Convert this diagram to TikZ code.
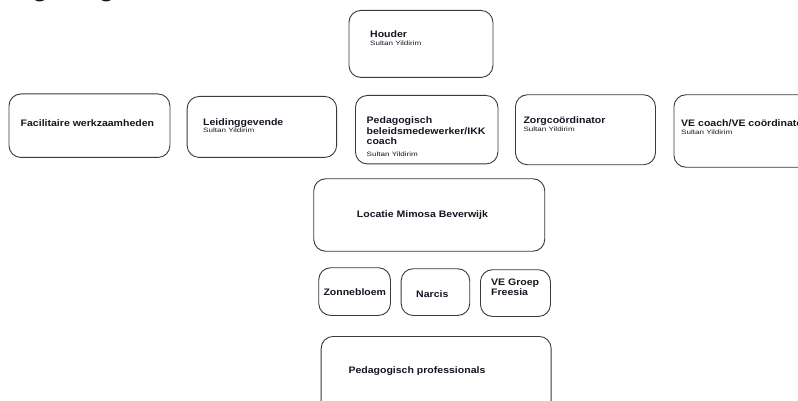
\documentclass[tikz,border=0pt]{standalone}
\usepackage{fontspec}
\setmainfont{Liberation Sans}
\newfontfamily\lblfont[FakeStretch=1.12]{Liberation Sans}
\newfontfamily\subfont[FakeStretch=1.28]{Liberation Sans}
\definecolor{linegray}{HTML}{3A3A3A}
\definecolor{txt}{HTML}{151520}
\tikzset{
  box/.style={draw=linegray, line width=0.9pt, rounded corners=12pt, inner sep=0pt, anchor=north west},
  ttl/.style={font=\lblfont\fontsize{9.4}{10}\selectfont\bfseries, text=txt, inner sep=0pt, anchor=base west},
  sub/.style={font=\subfont\fontsize{6.3}{7}\selectfont, text=txt, inner sep=0pt, anchor=base west},
}
\begin{document}
\begin{tikzpicture}[x=1pt, y=-1pt]
\useasboundingbox (0,0) rectangle (798,401);
\clip (0,0) rectangle (798,401);
\fill[white] (0,0) rectangle (798,401);
% cut-off heading
\node[font=\fontsize{30}{32}\selectfont\bfseries, text=txt, inner sep=0pt, outer sep=0pt, anchor=base west, xscale=0.93, transform shape] (heading) at (-1,-4.5) {Organogram};
% boxes
\node[box, minimum width=144pt, minimum height=67pt] (houder) at (348.5,10) {};
\node[box, minimum width=161pt, minimum height=63.5pt] (fac) at (8.5,93.5) {};
\node[box, minimum width=149.5pt, minimum height=61pt] (leid) at (186.7,96) {};
\node[box, minimum width=142.5pt, minimum height=68.5pt] (ped) at (355,95) {};
\node[box, minimum width=140pt, minimum height=70pt] (zorg) at (515,94.3) {};
\node[box, minimum width=150pt, minimum height=72.5pt] (vec) at (673.5,94.3) {};
\node[box, minimum width=231pt, minimum height=72.5pt] (loc) at (313.3,178.3) {};
\node[box, minimum width=71.7pt, minimum height=47.7pt] (zon) at (318.3,267.3) {};
\node[box, minimum width=68.6pt, minimum height=46.7pt] (nar) at (400.7,268.3) {};
\node[box, minimum width=70pt, minimum height=46.7pt] (veg) at (480,269.3) {};
\node[box, minimum width=230pt, minimum height=80pt] (pp) at (320.7,336) {};
% texts
\node[ttl] (houderT) at (370,38) {Houder};
\node[sub] (houderS) at (370,45.3) {Sultan Yildirim};
\node[ttl] (facT) at (20.5,126.5) {Facilitaire werkzaamheden};
\node[ttl] (leidT) at (203,126) {Leidinggevende};
\node[sub] (leidS) at (203,132.3) {Sultan Yildirim};
\node[ttl] (pedT1) at (366.5,123.4) {Pedagogisch};
\node[ttl] (pedT2) at (366.5,134.5) {beleidsmedewerker/IKK};
\node[ttl] (pedT3) at (366.5,145) {coach};
\node[sub] (pedS) at (366.5,156.2) {Sultan Yildirim};
\node[ttl] (zorgT) at (523.3,124) {Zorgcoördinator};
\node[sub] (zorgS) at (523.3,131.2) {Sultan Yildirim};
\node[ttl] (vecT) at (681,126.7) {VE coach/VE coördinator};
\node[sub] (vecS) at (681,134.5) {Sultan Yildirim};
\node[ttl] (locT) at (356.7,217.4) {Locatie Mimosa Beverwijk};
\node[ttl] (zonT) at (323.3,295) {Zonnebloem};
\node[ttl] (narT) at (416,297.4) {Narcis};
\node[ttl] (vegT1) at (491,285) {VE Groep};
\node[ttl] (vegT2) at (491,295) {Freesia};
\node[ttl] (ppT) at (348.3,373.4) {Pedagogisch professionals};
\end{tikzpicture}
\end{document}
